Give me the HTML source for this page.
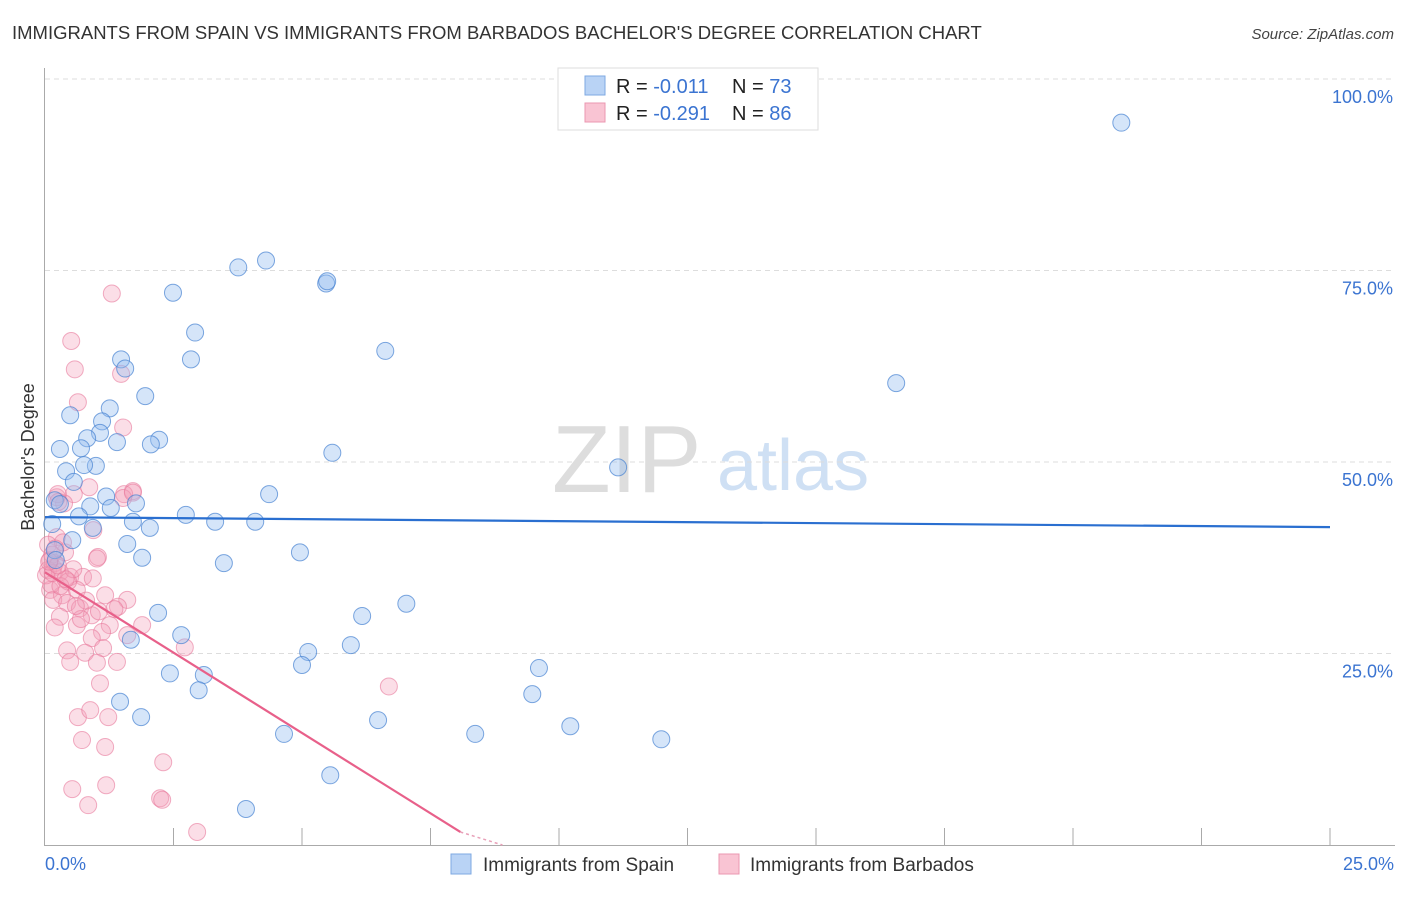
<!DOCTYPE html>
<html><head><meta charset="utf-8"><style>
body{margin:0;background:#fff;font-family:"Liberation Sans",sans-serif}
svg text{font-family:"Liberation Sans",sans-serif}
</style></head><body>
<svg id="chart" width="1406" height="892" xmlns="http://www.w3.org/2000/svg">
<text x="12" y="39" font-size="18.5" fill="#333">IMMIGRANTS FROM SPAIN VS IMMIGRANTS FROM BARBADOS BACHELOR'S DEGREE CORRELATION CHART</text>
<text x="1394" y="39" font-size="15" fill="#444" text-anchor="end" font-style="italic">Source: ZipAtlas.com</text>
<g>
<text x="552" y="492" font-size="96" fill="#ddd" font-family="Liberation Serif,serif">ZIP</text>
<text x="717" y="490" font-size="72" fill="#cfe0f4">atlas</text>
</g>
<g id="grid"></g>
<line x1="44.5" y1="68" x2="44.5" y2="845" stroke="#aaa"/>
<line x1="44" y1="845.5" x2="1395" y2="845.5" stroke="#aaa"/>
<g id="ticks"></g>
<text transform="translate(34,457) rotate(-90)" font-size="18" fill="#333" text-anchor="middle">Bachelor's Degree</text>
<text x="45" y="870" font-size="18" fill="#3b74d1">0.0%</text>
<text x="1394" y="870" font-size="18" fill="#3b74d1" text-anchor="end">25.0%</text>
<g id="pts"></g>
<g id="trends"></g>
<g>
<rect x="558" y="68" width="260" height="62" fill="#fff" stroke="#ddd"/>
<rect x="585" y="76" width="20" height="19" fill="#b9d3f5" stroke="#7ea8e2"/>
<rect x="585" y="103" width="20" height="19" fill="#f9c4d3" stroke="#eb97b0"/>
<text x="616" y="93" font-size="20" fill="#222">R = <tspan fill="#3b74d1">-0.011</tspan><tspan x="732">N = </tspan><tspan fill="#3b74d1">73</tspan></text>
<text x="616" y="120" font-size="20" fill="#222">R = <tspan fill="#3b74d1">-0.291</tspan><tspan x="732">N = </tspan><tspan fill="#3b74d1">86</tspan></text>
</g>
<g>
<rect x="451" y="854" width="20" height="20" fill="#b9d3f5" stroke="#7ea8e2"/>
<text x="483" y="871" font-size="19" fill="#333">Immigrants from Spain</text>
<rect x="719" y="854" width="20" height="20" fill="#f9c4d3" stroke="#eb97b0"/>
<text x="750" y="871" font-size="19" fill="#333">Immigrants from Barbados</text>
</g>
</svg>
<script>
const yTicks=[25,50,75,100];
const yTickLabels=["25.0%","50.0%","75.0%","100.0%"];
const xTicks=[2.5,5,7.5,10,12.5,15,17.5,20,22.5,25];
const spainX=[20.94,4.30,3.76,5.47,5.49,2.49,2.92,6.62,1.48,2.84,1.56,16.56,1.95,1.26,0.49,1.11,1.07,0.82,2.22,1.40,2.06,0.29,0.70,5.59,11.15,0.99,0.76,0.41,0.56,4.36,1.19,0.19,0.29,1.77,0.88,1.28,0.66,2.74,1.71,3.31,4.09,2.04,0.93,0.14,0.53,1.60,4.96,0.19,1.89,3.48,0.21,7.03,6.17,2.20,2.65,1.67,5.95,5.12,5.00,9.61,3.09,2.43,2.99,9.48,1.46,1.87,6.48,10.22,4.65,8.37,11.99,5.55,3.91];
const spainY=[94.3,76.3,75.4,73.3,73.6,72.1,66.9,64.5,63.4,63.4,62.2,60.3,58.6,57.0,56.1,55.3,53.8,53.1,52.9,52.6,52.3,51.7,51.8,51.2,49.3,49.5,49.6,48.8,47.4,45.8,45.5,45.0,44.5,44.6,44.2,44.0,42.9,43.1,42.2,42.2,42.2,41.4,41.4,41.9,39.8,39.3,38.2,38.5,37.5,36.8,37.2,31.5,29.9,30.3,27.4,26.8,26.1,25.2,23.5,23.1,22.2,22.4,20.2,19.7,18.7,16.7,16.3,15.5,14.5,14.5,13.8,9.1,4.7];
const barbX=[1.30,0.51,0.58,1.48,0.64,1.52,0.86,0.56,1.71,1.54,0.37,0.23,0.25,1.52,1.71,0.26,0.94,0.23,0.39,0.10,0.16,1.03,1.01,0.49,0.74,0.93,0.10,0.33,0.62,1.17,1.60,1.42,0.16,0.43,0.68,0.91,0.29,0.19,0.62,1.26,1.89,1.11,0.91,1.60,2.72,0.43,0.78,1.13,0.49,1.01,1.40,1.07,0.64,0.88,1.23,0.72,1.17,2.30,0.53,1.19,0.84,2.24,2.28,2.96,6.69,0.06,0.14,0.06,0.19,0.29,0.02,0.35,0.12,0.45,0.80,1.05,0.30,0.55,0.20,0.70,0.15,1.35,0.40,0.25,0.08,0.60];
const barbY=[72.0,65.8,62.1,61.5,57.8,54.5,46.7,45.8,46.2,45.8,44.6,45.4,45.8,45.3,46.0,44.8,41.1,40.2,38.2,37.2,36.2,37.6,37.4,35.0,35.0,34.8,33.3,32.6,33.3,32.6,32.0,31.1,32.0,31.6,30.9,30.0,29.8,28.4,28.7,28.7,28.7,27.8,27.0,27.4,25.8,25.4,25.1,25.7,23.9,23.8,23.9,21.1,16.7,17.6,16.7,13.7,12.8,10.8,7.3,7.8,5.2,6.1,5.9,1.7,20.7,39.2,37.9,35.9,36.8,35.6,35.2,39.5,34.0,34.4,31.9,30.5,33.8,36.0,38.7,29.5,35.5,30.8,34.7,36.5,37.0,31.2];
const spainTrend=[42.8,41.5];
const barbTrendX=[0,8.08,8.9];
const barbTrendY=[35.6,1.7,-1.7];
const X=v=>45+v*1285/25, Y=v=>845-v*766/100;
const NS="http://www.w3.org/2000/svg";
function mk(t,a,p){const e=document.createElementNS(NS,t);for(const k in a)e.setAttribute(k,a[k]);p.appendChild(e);return e;}
const grid=document.getElementById('grid');
yTicks.forEach((v,i)=>{
 const l=mk('line',{x1:45,x2:1395,y1:Y(v),y2:Y(v),stroke:'#ddd','stroke-dasharray':'5,4'},grid);
 
 
 const t=mk('text',{x:1393,y:Y(v)+24,'font-size':18,fill:'#3b74d1','text-anchor':'end'},grid);
 t.textContent=yTickLabels[i];
 
 
});
const ticks=document.getElementById('ticks');
xTicks.forEach(v=>{
 const l=mk('line',{x1:X(v),x2:X(v),y1:828,y2:845,stroke:'#aaa'},ticks);
 
 
});
const pts=document.getElementById('pts');
barbX.forEach((x,i)=>{
 const c=mk('circle',{cx:X(x),cy:Y(barbY[i]),r:8.5,fill:'rgba(244,160,185,0.35)',stroke:'rgba(232,120,155,0.6)','stroke-width':1},pts);
 
 
});
spainX.forEach((x,i)=>{
 const c=mk('circle',{cx:X(x),cy:Y(spainY[i]),r:8.5,fill:'rgba(150,190,240,0.4)',stroke:'rgba(70,130,210,0.7)','stroke-width':1},pts);
 
 
});
const tr=document.getElementById('trends');
const b=mk('line',{x1:X(0),y1:Y(spainTrend[0]),x2:X(25),y2:Y(spainTrend[1]),stroke:'#2a6fd0','stroke-width':2.2},tr);


const p=mk('line',{x1:X(barbTrendX[0]),y1:Y(barbTrendY[0]),x2:X(barbTrendX[1]),y2:Y(barbTrendY[1]),stroke:'#e8608a','stroke-width':2.2},tr);


const pd=mk('line',{x1:X(barbTrendX[1]),y1:Y(barbTrendY[1]),x2:X(barbTrendX[2]),y2:Math.min(845,Y(barbTrendY[2])),stroke:'#e8a0b8','stroke-width':1.5,'stroke-dasharray':'3,3'},tr);


</script>
</body></html>
